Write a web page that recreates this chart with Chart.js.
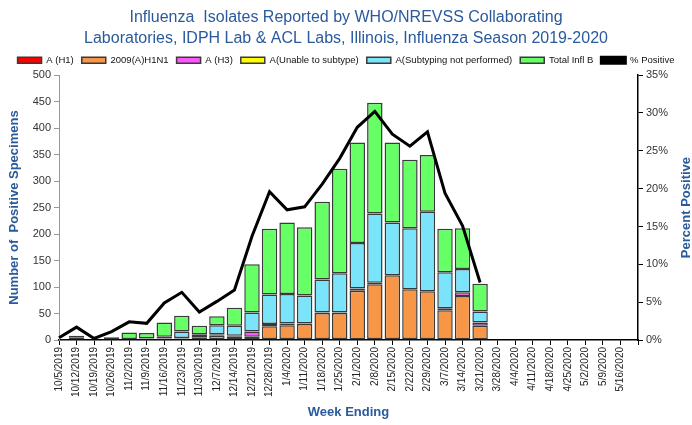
<!DOCTYPE html>
<html>
<head>
<meta charset="utf-8">
<script src="https://cdn.jsdelivr.net/npm/chart.js@4.4.1/dist/chart.umd.min.js"></script>
<style>
  body { margin: 0; background: #fff; }
  #wrap { width: 692px; height: 425px; }
</style>
</head>
<body>
<div id="wrap"><canvas id="fluChart" width="692" height="425"></canvas></div>
<script>
// week ending labels (last slot is an empty week on the axis)
const weeks = ['10/5/2019','10/12/2019','10/19/2019','10/26/2019','11/2/2019','11/9/2019',
  '11/16/2019','11/23/2019','11/30/2019','12/7/2019','12/14/2019','12/21/2019','12/28/2019',
  '1/4/2020','1/11/2020','1/18/2020','1/25/2020','2/1/2020','2/8/2020','2/15/2020','2/22/2020',
  '2/29/2020','3/7/2020','3/14/2020','3/21/2020','3/28/2020','4/4/2020','4/11/2020','4/18/2020',
  '4/25/2020','5/2/2020','5/9/2020','5/16/2020',''];

const aH1      = [0,0,0,0,0,0,1,1,0,1,2,1,2,2,2,2,2,1,2,2,2,2,1,1,1];
const aH1N1    = [0,0,0,1,0,1,2,2,2,7,5,5,24,26,28,49,49,92,103,120,94,90,55,82,26];
const aH3      = [0,0,0,0,0,0,0,1,3,3,1,10,4,3,1,1,1,4,3,0,0,0,4,7,6];
const aUnable  = [0,0,0,0,0,0,0,0,0,0,0,0,0,0,0,0,0,0,0,0,0,0,0,0,0];
const aNotDone = [1,5,0,1,2,2,3,12,6,17,19,36,56,56,53,62,74,86,131,100,115,150,68,44,21];
const inflB    = [1,3,0,3,12,10,27,30,16,17,34,91,124,135,129,147,197,190,209,151,129,107,82,77,52];
const pctPositive = [0.3,1.7,0.2,1.1,2.4,2.2,4.9,6.3,3.7,5.1,6.6,13.7,19.6,17.2,17.6,20.6,24.0,
  28.1,30.2,27.2,25.6,27.5,19.4,15.1,7.6];

const leftTicks = [0,50,100,150,200,250,300,350,400,450,500];

const fontFam = '"Liberation Sans", Arial, sans-serif';
const blue = '#2a5a9c';

function barSet(label, values, color) {
    return {
        type: 'bar',
        label: label,
        data: values,
        backgroundColor: color,
        borderColor: '#3a3a3a',
        borderWidth: 1.5,
        borderSkipped: false,
        stack: 'flu',
        yAxisID: 'y'
    };
}

const rightTitle = {
    id: 'rightTitle',
    afterDraw(chart) {
        const c = chart.ctx;
        const y1 = chart.scales.y1;
        c.save();
        c.translate(686, (y1.top + y1.bottom) / 2);
        c.rotate(-Math.PI / 2);
        c.font = 'bold 13px ' + fontFam;
        c.fillStyle = blue;
        c.textAlign = 'center';
        c.textBaseline = 'middle';
        c.fillText('Percent Positive', 0, 0);
        c.restore();
    }
};

const ctx = document.getElementById('fluChart').getContext('2d');

new Chart(ctx, {
    type: 'bar',
    data: {
        labels: weeks,
        datasets: [
            barSet('A (H1)', aH1, '#ff0000'),
            barSet('2009(A)H1N1', aH1N1, '#f79646'),
            barSet('A (H3)', aH3, '#ff55ff'),
            barSet('A(Unable to subtype)', aUnable, '#ffff00'),
            barSet('A(Subtyping not performed)', aNotDone, '#7ae4fb'),
            barSet('Total Infl B', inflB, '#66ff66'),
            {
                type: 'line',
                label: '% Positive',
                data: pctPositive,
                borderColor: '#000',
                backgroundColor: '#000',
                borderWidth: 3,
                pointRadius: 0,
                tension: 0,
                order: -1,
                yAxisID: 'y1'
            }
        ]
    },
    options: {
        responsive: false,
        animation: false,
        datasets: {
            bar: { categoryPercentage: 1, barPercentage: 0.88 }
        },
        layout: { padding: 0 },
        plugins: {
            title: {
                display: true,
                text: ['Influenza  Isolates Reported by WHO/NREVSS Collaborating',
                       'Laboratories, IDPH Lab & ACL Labs, Illinois, Influenza Season 2019-2020'],
                color: blue,
                font: { family: fontFam, size: 16, weight: 'normal', lineHeight: 1.3 },
                padding: { top: 7, bottom: -1 }
            },
            legend: {
                display: true,
                labels: {
                    boxWidth: 24,
                    boxHeight: 6,
                    padding: 8,
                    color: '#111',
                    font: { family: fontFam, size: 9.5 },
                    sort: (a, b) => a.datasetIndex - b.datasetIndex
                }
            },
            tooltip: { enabled: false }
        },
        scales: {
            x: {
                stacked: true,
                offset: false,
                grid: { display: true, offset: false, drawOnChartArea: false, drawTicks: true, tickLength: 5, color: '#000' },
                border: { color: '#000', width: 1.5 },
                ticks: {
                    autoSkip: false,
                    minRotation: 90,
                    maxRotation: 90,
                    padding: 2,
                    color: '#222',
                    font: { family: fontFam, size: 10 }
                },
                title: {
                    display: true,
                    text: 'Week Ending',
                    color: blue,
                    font: { family: fontFam, size: 13, weight: 'bold' },
                    padding: { top: 0, bottom: 5 }
                },
                afterFit: (scale) => { scale.height = 85; }
            },
            y: {
                stacked: true,
                position: 'left',
                min: 0,
                max: 500,
                afterBuildTicks: (scale) => { scale.ticks = leftTicks.map(v => ({ value: v })); },
                grid: { display: true, drawOnChartArea: false, tickLength: 5, color: '#999' },
                border: { color: '#999', width: 1 },
                ticks: {
                    padding: 3,
                    color: '#333',
                    font: { family: fontFam, size: 11 }
                },
                title: {
                    display: true,
                    text: 'Number of  Positive Specimens',
                    color: blue,
                    font: { family: fontFam, size: 13, weight: 'bold' },
                    padding: { top: 7, bottom: 0 }
                },
                afterFit: (scale) => { scale.width = 59; }
            },
            y1: {
                position: 'right',
                stacked: false,
                min: 0,
                max: 35,
                grid: { display: true, drawOnChartArea: false, tickLength: 5, color: '#000' },
                border: { color: '#000', width: 1.5 },
                ticks: {
                    stepSize: 5,
                    padding: 3,
                    color: '#333',
                    font: { family: fontFam, size: 11 },
                    callback: (v) => v + '%'
                },
                afterFit: (scale) => { scale.width = 54; }
            }
        }
    },
    plugins: [rightTitle]
});
</script>
</body>
</html>
